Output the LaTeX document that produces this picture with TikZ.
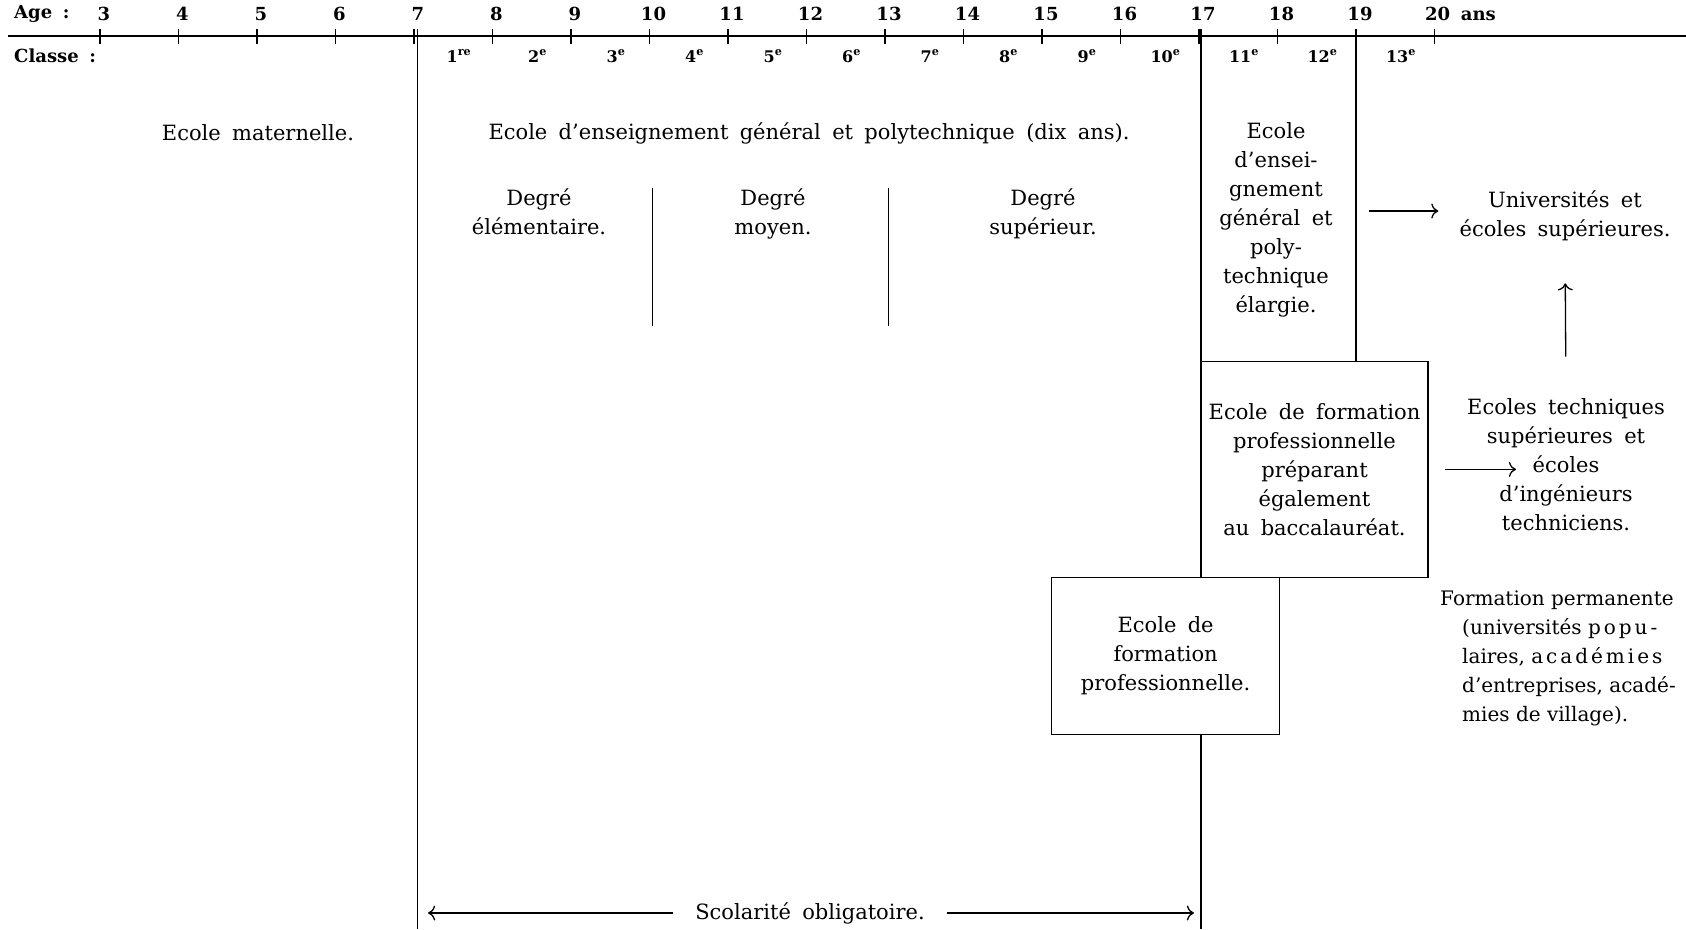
\documentclass[tikz,border=0pt]{standalone}
\usepackage{fontspec}
\setmainfont{DejaVu Serif}[WordSpace=1.7]
\newfontfamily\permfont{DejaVu Serif}
\usetikzlibrary{arrows.meta}

\tikzset{
  lbl/.style={font=\fontsize{21}{29}\selectfont, align=center, inner sep=0pt},
  num/.style={font=\fontsize{18}{22}\selectfont\bfseries, inner sep=0pt},
  thin line/.style={line width=1.4pt},
  boxed/.style={draw, line width=1.6pt},
  arr/.style={-{To[scale=1.6]}, line width=1.3pt},
}

\begin{document}
\begin{tikzpicture}[x=1pt, y=-1pt]
    \useasboundingbox (0,0) rectangle (1686,929);
    % age axis
    \draw[line width=2pt] (8,35.5) -- (1686,35.5);
    % tick marks
    \foreach \a in {3,...,20}
        \draw[thin line] ({100+(\a-3)*78.5},29) -- ++(0,15);
    % ages
    \node[num, anchor=west] (agelbl) at (14,14) {Age :};
    \foreach \a in {3,...,19}
        \node[num] (age\a) at ({104+(\a-3)*78.5},14) {\a};
    \node[num, anchor=west] (age20) at (1425,14) {20 ans};
    % classes
    \node[num, anchor=west] (classelbl) at (14,56) {Classe :};
    \foreach \c/\s in {1/re,2/e,3/e,4/e,5/e,6/e,7/e,8/e,9/e,10/e,11/e,12/e,13/e}
        \node[num, font=\fontsize{16}{20}\selectfont\bfseries] (cl\c) at ({100+(3+\c)*78.5+45},56) {\c\textsuperscript{\s}};

    % school texts
    \node[lbl] (mat) at (258,133) {Ecole maternelle.};
    \node[lbl] (gen) at (809,133) {Ecole d’enseignement général et polytechnique (dix ans).};
    \node[lbl, anchor=base] (elem) at (539,234) {Degré\\élémentaire.};
    \node[lbl, anchor=base] (moy) at (773,234) {Degré\\moyen.};
    \node[lbl, anchor=base] (sup) at (1043,234) {Degré\\supérieur.};
    \node[lbl] (elarg) at (1276,220) {Ecole\\d’ensei-\\gnement\\général et\\poly-\\technique\\élargie.};
    \node[lbl] (univ) at (1565,216) {Universités et\\écoles supérieures.};
    \node[lbl] (tech) at (1566,465) {Ecoles techniques\\supérieures et\\écoles\\d’ingénieurs\\techniciens.};
    \node[lbl, boxed, minimum width=227pt, minimum height=216pt] (prep) at (1314.5,469.4)
        {Ecole de formation\\professionnelle\\préparant\\également\\au baccalauréat.};
    \node[lbl, boxed, minimum width=228pt, minimum height=157pt] (pro) at (1165.6,656)
        {Ecole de\\formation\\professionnelle.};
    \node[lbl, align=left, anchor=base west, font=\fontsize{20}{29}\permfont] (perm) at (1462,721)
        {\hspace*{-22pt}Formation permanente\\(universités {\addfontfeature{LetterSpace=15}popu-}\\laires, {\addfontfeature{LetterSpace=15}académies}\\d’entreprises, acadé-\\mies de village).};
    \node[lbl, inner xsep=22pt] (scol) at (810,913) {Scolarité obligatoire.};

    % degree separators
    \draw[thin line] (652.7,188) -- (652.7,326);
    \draw[thin line] (888.2,188) -- (888.2,326);

    % vertical age lines
    \coordinate (top7) at (417.2,29);
    \coordinate (bot7) at (417.2,929);
    \coordinate (top17) at (1201,29);
    \coordinate (bot17) at (1201,929);
    \coordinate (top19) at (1356,29);
    \draw[thin line] (top7) -- (bot7);
    \draw[thin line] (top17) -- (top17 |- pro.north);
    \draw[thin line] (top17 |- pro.south) -- (bot17);
    \draw[thin line] (top19) -- (top19 |- prep.north);

    % arrows
    \coordinate (u1) at (1369,211);
    \coordinate (t3) at (1516,469.4);
    \coordinate (s7) at (428,913);
    \coordinate (s17) at (1194,913);
    \draw[arr, shorten >=21pt] (u1) -- (univ.west |- u1);
    \draw[arr, shorten <=42pt, shorten >=42pt] (tech.north) -- (univ.south);
    \draw[arr, shorten <=16pt] (prep.east) -- (t3);
    \draw[arr] (scol.west) -- (s7);
    \draw[arr] (scol.east) -- (s17);
\end{tikzpicture}
\end{document}
